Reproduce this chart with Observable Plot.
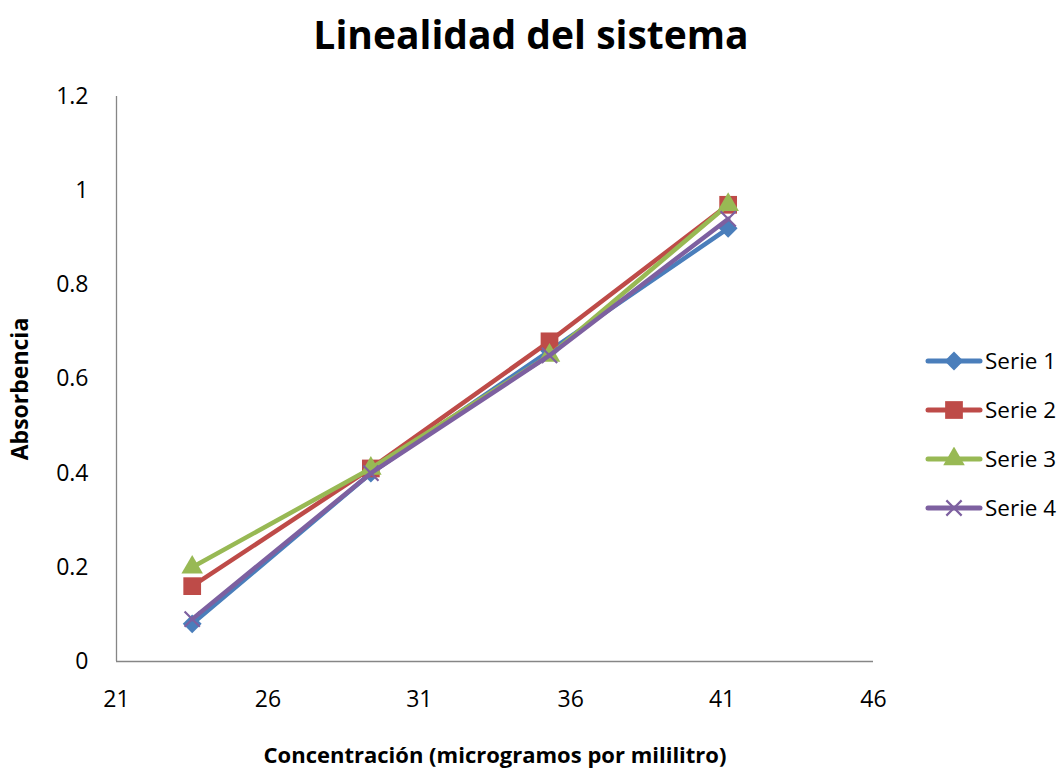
<!DOCTYPE html>
<html><head><meta charset="utf-8">
<script src="https://cdn.jsdelivr.net/npm/d3@7"></script>
<script src="https://cdn.jsdelivr.net/npm/@observablehq/plot@0.6"></script>
<style>
body{margin:0;background:#fff;font-family:"Open Sans",sans-serif;}
#wrap{position:relative;width:1062px;height:769px;overflow:hidden;}
#title{position:absolute;top:8px;left:0;width:1062px;text-align:center;font-weight:bold;font-size:39px;line-height:52px;color:#000;z-index:2;}
#chart{position:absolute;top:0;left:0;}
#legend{position:absolute;left:924px;top:336px;}
.item{display:flex;align-items:center;height:49px;font-size:22.5px;color:#000;}
.item svg{margin-right:1px;}
</style></head>
<body><div id="wrap"><div id="chart"></div><div id="title">Linealidad del sistema</div><div id="legend"></div></div>
<script>
const concentracion = [23.5, 29.4, 35.3, 41.2];
const serie1 = [0.08, 0.40, 0.66, 0.92];
const serie2 = [0.16, 0.41, 0.68, 0.97];
const serie3 = [0.20, 0.41, 0.65, 0.97];
const serie4 = [0.09, 0.40, 0.65, 0.94];
const seriesNames = ["Serie 1", "Serie 2", "Serie 3", "Serie 4"];
const seriesColors = ["#4A7EBB", "#BE4B48", "#98B954", "#7D60A0"];
const xTicks = [21, 26, 31, 36, 41, 46];
const yTicks = [0, 0.2, 0.4, 0.6, 0.8, 1, 1.2];
const xLabel = "Concentración (microgramos por mililitro)";
const yLabel = "Absorbencia";

const allSeries = [serie1, serie2, serie3, serie4];
const symbols = [d3.symbolDiamond2, d3.symbolSquare, d3.symbolTriangle, d3.symbolTimes];
const radii = [8.5, 10, 8, 7];

const marks = [
  Plot.ruleY([0], {stroke: "#868686", strokeWidth: 1.3}),
  Plot.ruleX([21], {stroke: "#868686", strokeWidth: 1.3}),
  Plot.axisX({ticks: xTicks, tickSize: 0, tickPadding: 29, label: null, fontSize: 23, tickFormat: d => String(d)}),
  Plot.axisY({ticks: yTicks, tickSize: 0, tickPadding: 28, label: null, fontSize: 23, tickFormat: d => String(+d.toFixed(1))}),
  Plot.text([xLabel], {frameAnchor: "bottom", lineAnchor: "middle", textAnchor: "middle", dy: 94, fontWeight: "bold", fontSize: 22}),
  Plot.text([yLabel], {frameAnchor: "left", lineAnchor: "middle", textAnchor: "middle", dx: -96, dy: 10, rotate: -90, fontWeight: "bold", fontSize: 23})
];
allSeries.forEach((vals, i) => {
  const rows = concentracion.map((c, j) => ({x: c, y: vals[j]}));
  marks.push(Plot.line(rows, {x: "x", y: "y", stroke: seriesColors[i], strokeWidth: 4.5}));
  const isStroke = i === 3;
  marks.push(Plot.dot(rows, {x: "x", y: "y", symbol: symbols[i], r: radii[i],
    fill: isStroke ? "none" : seriesColors[i], stroke: seriesColors[i], strokeWidth: isStroke ? 2.2 : 0}));
});

const chart = Plot.plot({
  width: 1062, height: 769,
  marginLeft: 116, marginRight: 189, marginTop: 96, marginBottom: 108,
  x: {domain: [21, 46]},
  y: {domain: [0, 1.2]},
  style: {fontFamily: "'Open Sans', sans-serif", color: "#000", background: "transparent"},
  marks
});
document.getElementById("chart").append(chart);

const legend = document.getElementById("legend");
seriesNames.forEach((name, i) => {
  const div = document.createElement("div");
  div.className = "item";
  const path = d3.symbol(symbols[i], Math.PI * radii[i] * radii[i])();
  const isStroke = i === 3;
  div.innerHTML = `<svg width="60" height="24"><line x1="4" x2="56" y1="12" y2="12" stroke="${seriesColors[i]}" stroke-width="5" stroke-linecap="round"/>` +
    `<path transform="translate(30,12)" d="${path}" fill="${isStroke ? "none" : seriesColors[i]}" stroke="${seriesColors[i]}" stroke-width="${isStroke ? 2.2 : 0}"/></svg><span>${name}</span>`;
  legend.append(div);
});
</script></body></html>
